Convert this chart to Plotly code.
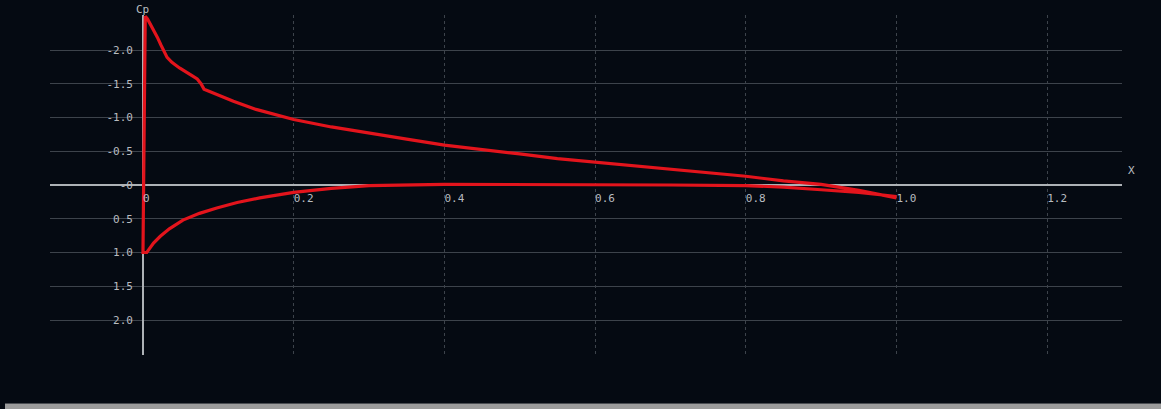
import plotly.graph_objects as go

# Pressure coefficient distribution along the chord
upper_x = [0.0, 0.003, 0.006, 0.010, 0.014, 0.019, 0.024, 0.028, 0.032, 0.038, 0.044,
           0.049, 0.057, 0.065, 0.072, 0.077, 0.081, 0.090, 0.10, 0.12, 0.15, 0.20,
           0.25, 0.30, 0.35, 0.40, 0.45, 0.50, 0.55, 0.60, 0.65, 0.70, 0.75, 0.80,
           0.85, 0.90, 0.95, 1.0]
upper_cp = [1.0, -2.50, -2.46, -2.38, -2.30, -2.19, -2.07, -1.97, -1.89, -1.82, -1.77,
            -1.73, -1.67, -1.62, -1.57, -1.50, -1.42, -1.37, -1.33, -1.24, -1.12, -0.97,
            -0.86, -0.77, -0.68, -0.59, -0.52, -0.46, -0.39, -0.33, -0.28, -0.23, -0.18,
            -0.13, -0.06, -0.01, 0.08, 0.19]

lower_x = [0.005, 0.009, 0.014, 0.023, 0.035, 0.053, 0.075, 0.098, 0.125, 0.155, 0.20,
           0.25, 0.30, 0.40, 0.50, 0.60, 0.70, 0.80, 0.85, 0.90, 0.95, 1.0]
lower_cp = [1.0, 0.93, 0.86, 0.76, 0.65, 0.52, 0.42, 0.34, 0.26, 0.19, 0.11,
            0.05, 0.01, -0.01, -0.01, -0.005, 0.0, 0.01, 0.03, 0.07, 0.11, 0.17]

x_ticks = [0, 0.2, 0.4, 0.6, 0.8, 1.0, 1.2]
x_tick_text = ["0", "0.2", "0.4", "0.6", "0.8", "1.0", "1.2"]
y_ticks = [-2.0, -1.5, -1.0, -0.5, 0, 0.5, 1.0, 1.5, 2.0]
y_tick_text = ["-2.0", "-1.5", "-1.0", "-0.5", "-0", "0.5", "1.0", "1.5", "2.0"]

BG = "#050a12"
GRID = "#3d434b"
AXIS = "#aeb2b6"
TEXT = "#b8bcc0"
FONT = "DejaVu Sans Mono"
FS = 11

W, H = 1161, 409
ML, MR, MT, MB = 50, 39, 15, 54
PW, PH = W - ML - MR, H - MT - MB

# chord line: x = 0 sits on the y axis, y = 0 halfway down the plot
x_range = [-0.1234, 1.2993]
y_range = [2.5185, -2.5185]
y_axis_pos = (0 - x_range[0]) / (x_range[1] - x_range[0])

fig = go.Figure()
fig.add_trace(go.Scatter(
    x=upper_x[::-1] + lower_x, y=upper_cp[::-1] + lower_cp,
    mode="lines", line=dict(color="#e3141c", width=3.2),
    cliponaxis=False, hoverinfo="skip", showlegend=False,
))

fig.update_layout(
    width=W, height=H,
    margin=dict(l=ML, r=MR, t=MT, b=MB, pad=0),
    paper_bgcolor=BG, plot_bgcolor=BG,
    font=dict(family=FONT, size=FS, color=TEXT),
    xaxis=dict(
        range=x_range, tickvals=x_ticks, ticktext=x_tick_text,
        showgrid=True, gridcolor=GRID, griddash="dot", gridwidth=1,
        zeroline=True, zerolinecolor=AXIS, zerolinewidth=1.5,
        showline=False, ticks="", anchor="free", position=0.5,
        ticklabelposition="outside right", ticklabelstandoff=5,
        tickfont=dict(family=FONT, size=FS, color=TEXT),
    ),
    yaxis=dict(
        range=y_range, tickvals=y_ticks, ticktext=y_tick_text,
        showgrid=True, gridcolor=GRID, gridwidth=1,
        zeroline=True, zerolinecolor=AXIS, zerolinewidth=1.5,
        showline=False, ticks="", anchor="free", position=y_axis_pos,
        ticklabelstandoff=10,
        tickfont=dict(family=FONT, size=FS, color=TEXT),
    ),
    annotations=[
        dict(text="Cp", x=0, xref="x", y=1.0, yref="paper", yshift=14,
             showarrow=False, font=dict(family=FONT, size=FS, color=TEXT)),
        dict(text="X", x=1.0, xref="paper", xanchor="left", xshift=4,
             y=0.5, yref="paper", yshift=15, showarrow=False,
             font=dict(family=FONT, size=FS, color=TEXT)),
    ],
    shapes=[
        # window status strip along the bottom edge
        dict(type="rect", xref="paper", yref="paper",
             x0=-(ML - 5) / PW, x1=1 + MR / PW,
             y0=-(MB + 2) / PH, y1=-(MB - 5) / PH,
             fillcolor="#9c9c9c", line=dict(width=0), layer="above"),
        dict(type="line", xref="paper", yref="paper",
             x0=-(ML - 5) / PW, x1=1 + MR / PW,
             y0=-(MB - 5.5) / PH, y1=-(MB - 5.5) / PH,
             line=dict(color="#4a4d52", width=1), layer="above"),
    ],
)

fig.write_html("out.html")
